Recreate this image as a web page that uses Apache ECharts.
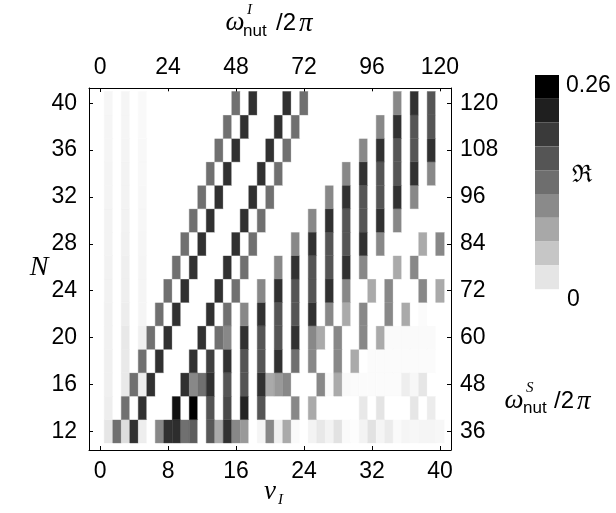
<!DOCTYPE html>
<html>
<head>
<meta charset="utf-8">
<script src="https://cdn.jsdelivr.net/npm/echarts@6/dist/echarts.min.js"></script>
<style>html,body{margin:0;padding:0;background:#fff}#c{width:616px;height:513px}</style>
</head>
<body>
<div id="c"></div>
<script>
// nu_I columns (1..40) and N rows (12..40 step 2)
const nuCols = [1,2,3,4,5,6,7,8,9,10,11,12,13,14,15,16,17,18,19,20,21,22,23,24,25,26,27,28,29,30,31,32,33,34,35,36,37,38,39,40];
const nRows = [12,14,16,18,20,22,24,26,28,30,32,34,36,38,40];
const xTicks = [0,8,16,24,32,40];
const topTickLabels = ['0','24','48','72','96','120'];
const yTicks = [12,16,20,24,28,32,36,40];
const rightTickLabels = ['36','48','60','72','84','96','108','120'];
const colorbarEdges = [0,0.0289,0.0578,0.0867,0.1156,0.1444,0.1733,0.2022,0.2311,0.26];
const colorbarLabels = ['0.26','0'];

// R values, one row per N (index = nu_I - 1)
const r12 = [0.026,0.146,0.035,0.21,0.017,0,0.121,0.21,0.214,0.146,
 0.165,0,0.17,0.087,0.21,0.121,0.104,0,0.010,0.121,
 0.015,0.087,0.005,0,0.012,0.023,0.012,0.030,0.005,0.002,
 0.012,0.030,0.010,0.020,0.005,0.010,0.008,0.010,0.010,0.008];
const r14 = [0.017,0,0.146,0,0.21,0,0,0,0.243,0,
 0.26,0,0.173,0,0.185,0,0.225,0,0.173,0,
 0,0,0.121,0,0.087,0,0,0,0,0,
 0.023,0,0.028,0,0,0,0.026,0,0.019,0];
const r16 = [0.015,0,0.022,0.146,0.017,0.21,0,0,0,0.21,
 0.121,0.146,0.21,0,0.173,0,0.173,0,0.21,0.087,
 0.104,0.121,0,0,0,0.121,0.005,0.087,0.006,0.004,
 0.004,0.004,0.004,0.004,0.004,0.017,0.008,0.026,0,0];
const r18 = [0.015,0,0.022,0,0.146,0,0.21,0,0,0,
 0.21,0,0.195,0,0.21,0,0.173,0,0.173,0,
 0.21,0,0.146,0,0.121,0,0,0.121,0,0.087,
 0,0.004,0.004,0.004,0.004,0.004,0.004,0.004,0.004,0];
const r20 = [0.014,0,0.023,0,0.015,0.146,0,0.21,0,0,
 0,0.21,0,0.146,0.121,0,0.21,0,0.173,0,
 0.173,0,0.21,0,0.121,0.087,0,0.121,0,0,
 0.121,0,0.087,0.005,0.005,0.005,0.005,0.005,0.005,0];
const r22 = [0.014,0,0.018,0,0.010,0,0.146,0,0.21,0,
 0,0,0.21,0,0.146,0,0.121,0,0.21,0,
 0.173,0,0.173,0,0.21,0,0.121,0,0.087,0,
 0.121,0,0,0.121,0,0.087,0,0.004,0,0];
const r24 = [0.013,0,0.016,0,0.010,0,0,0.146,0,0.21,
 0,0,0,0.21,0,0.146,0,0,0.121,0,
 0.21,0,0.173,0,0.173,0,0.21,0,0.121,0,
 0,0.087,0,0.121,0,0,0,0.121,0,0.087];
const r26 = [0.013,0,0.016,0,0.010,0,0,0,0.146,0,
 0.21,0,0,0,0.21,0,0.146,0,0,0,
 0.121,0,0.21,0,0.173,0,0.173,0,0.21,0,
 0.121,0,0,0,0.087,0,0.121,0,0,0];
const r28 = [0.012,0,0.014,0,0.009,0,0,0,0,0.146,
 0,0.21,0,0,0,0.21,0,0.146,0,0,
 0,0,0.121,0,0.21,0,0.173,0,0.173,0,
 0.21,0,0.121,0,0,0,0,0.087,0,0.121];
const r30 = [0.012,0,0.013,0,0.008,0,0,0,0,0,
 0.146,0,0.21,0,0,0,0.21,0,0.146,0,
 0,0,0,0,0.121,0,0.21,0,0.173,0,
 0.173,0,0.21,0,0.121,0,0,0,0,0];
const r32 = [0.011,0,0.012,0,0.008,0,0,0,0,0,
 0,0.146,0,0.21,0,0,0,0.21,0,0.146,
 0,0,0,0,0,0,0.121,0,0.21,0,
 0.173,0,0.173,0,0.21,0,0.121,0,0,0];
const r34 = [0.011,0,0.012,0,0.007,0,0,0,0,0,
 0,0,0.146,0,0.21,0,0,0,0.21,0,
 0.146,0,0,0,0,0,0,0,0.121,0,
 0.21,0,0.173,0,0.173,0,0.21,0,0.121,0];
const r36 = [0.010,0,0.011,0,0.007,0,0,0,0,0,
 0,0,0,0.146,0,0.21,0,0,0,0.21,
 0,0.146,0,0,0,0,0,0,0,0,
 0.121,0,0.21,0,0.173,0,0.173,0,0.21,0];
const r38 = [0.010,0,0.010,0,0.006,0,0,0,0,0,
 0,0,0,0,0.146,0,0.21,0,0,0,
 0.21,0,0.146,0,0,0,0,0,0,0,
 0,0,0.121,0,0.21,0,0.173,0,0.173,0];
const r40 = [0.009,0,0.010,0,0.006,0,0,0,0,0,
 0,0,0,0,0,0.146,0,0.21,0,0,
 0,0.21,0,0.146,0,0,0,0,0,0,
 0,0,0,0,0.121,0,0.21,0,0.173,0];

const rowValues = [r12,r14,r16,r18,r20,r22,r24,r26,r28,r30,r32,r34,r36,r38,r40];
const cells = [];
rowValues.forEach((row, i) => row.forEach((v, j) => cells.push([nuCols[j], nRows[i], v])));

const colorbarColors = ['#e5e5e5','#c6c6c6','#a8a8a8','#8a8a8a','#6e6e6e','#555555','#3a3a3a','#1f1f1f','#000000'];
const pieces = colorbarColors.map((c, k) => ({gte: colorbarEdges[k], lt: colorbarEdges[k+1], color: c}));

const SANS = '"Liberation Sans", Arial, sans-serif';
const SERIF = '"Liberation Serif", "Times New Roman", serif';
const labelStyle = {fontSize: 23, fontFamily: SANS, color: '#000'};

function axisCommon(extra) {
  return Object.assign({
    type: 'value',
    axisLine: {show: true, onZero: false, lineStyle: {color: '#000', width: 1}},
    splitLine: {show: false},
  }, extra);
}

function txt(text, x, y, font, align) {
  return {
    type: 'text', x: 0, y: 0, silent: true,
    style: {text, x, y, font, fill: '#000', textAlign: align || 'left', textVerticalAlign: 'middle', align: align || 'left', verticalAlign: 'middle'}
  };
}

const chart = echarts.init(document.getElementById('c'), null, {renderer: 'canvas'});
chart.setOption({
  backgroundColor: '#fff',
  animation: false,
  grid: {left: 89, top: 88, width: 362, height: 362, containLabel: false},
  xAxis: [
    axisCommon({position: 'bottom', min: -1.3, max: 41.3,
      axisTick: {show: true, inside: true, length: 4, customValues: xTicks, lineStyle: {color: '#000'}},
      axisLabel: Object.assign({customValues: xTicks, margin: 10}, labelStyle)}),
    axisCommon({position: 'top', min: -1.3, max: 41.3,
      axisTick: {show: true, inside: true, length: 4, customValues: xTicks, lineStyle: {color: '#000'}},
      axisLabel: Object.assign({customValues: xTicks, margin: 9,
        formatter: v => topTickLabels[xTicks.indexOf(Math.round(v))]}, labelStyle)})
  ],
  yAxis: [
    axisCommon({position: 'left', min: 10.4, max: 41.3,
      axisTick: {show: true, inside: true, length: 4, customValues: yTicks, lineStyle: {color: '#000'}},
      axisLabel: Object.assign({customValues: yTicks, margin: 12}, labelStyle)}),
    axisCommon({position: 'right', min: 10.4, max: 41.3,
      axisTick: {show: true, inside: true, length: 4, customValues: yTicks, lineStyle: {color: '#000'}},
      axisLabel: Object.assign({customValues: yTicks, margin: 9,
        formatter: v => rightTickLabels[yTicks.indexOf(Math.round(v))]}, labelStyle)})
  ],
  visualMap: [
    {type: 'continuous', show: false, seriesIndex: 0, dimension: 2, min: 0, max: 0.26,
      inRange: {color: ['#ffffff', '#000000']}},
    {type: 'piecewise', seriesIndex: 1, orient: 'vertical', left: 535, top: 75, padding: 0,
      itemWidth: 24, itemHeight: 23.8, itemGap: 0, itemSymbol: 'rect', showLabel: false,
      selectedMode: false, pieces: pieces}
  ],
  series: [
    {type: 'custom', xAxisIndex: 0, yAxisIndex: 0, data: cells, encode: {x: 0, y: 1},
      renderItem: (params, api) => {
        const x = api.value(0), y = api.value(1);
        const p0 = api.coord([x - 0.5, y + 1]);
        const p1 = api.coord([x + 0.5, y - 1]);
        const fill = api.visual('color');
        return {type: 'rect', shape: {x: p0[0], y: p0[1], width: p1[0] - p0[0], height: p1[1] - p0[1]},
          style: {fill: fill, stroke: fill, lineWidth: 0.4}};
      }},
    {type: 'scatter', xAxisIndex: 0, yAxisIndex: 0, data: []}
  ],
  graphic: [
    // colorbar labels
    txt(colorbarLabels[0], 566, 86, '23px ' + SANS),
    txt(colorbarLabels[1], 567, 300, '23px ' + SANS),
    txt('\u211C', 572, 176, '24px "DejaVu Serif", serif'),
    // left axis name
    txt('N', 39, 268, 'italic 28px ' + SERIF, 'center'),
    // top axis name
    txt('\u03C9', 235, 23, 'italic 27px ' + SERIF, 'center'),
    txt('I', 247, 10, 'italic 15px ' + SERIF),
    txt('nut', 243, 31, '17px ' + SANS),
    txt('/2', 276, 23, '24px ' + SANS),
    txt('\u03C0', 299, 24, 'italic 27px ' + SERIF),
    // right axis name
    txt('\u03C9', 514, 401, 'italic 27px ' + SERIF, 'center'),
    txt('S', 526, 388, 'italic 15px ' + SERIF),
    txt('nut', 523, 408, '17px ' + SANS),
    txt('/2', 554, 401, '24px ' + SANS),
    txt('\u03C0', 577, 402, 'italic 27px ' + SERIF),
    // bottom axis name
    txt('\u03BD', 270, 492, 'italic 27px ' + SERIF, 'center'),
    txt('I', 278, 500, 'italic 15px ' + SERIF)
  ]
});
</script>
</body>
</html>
